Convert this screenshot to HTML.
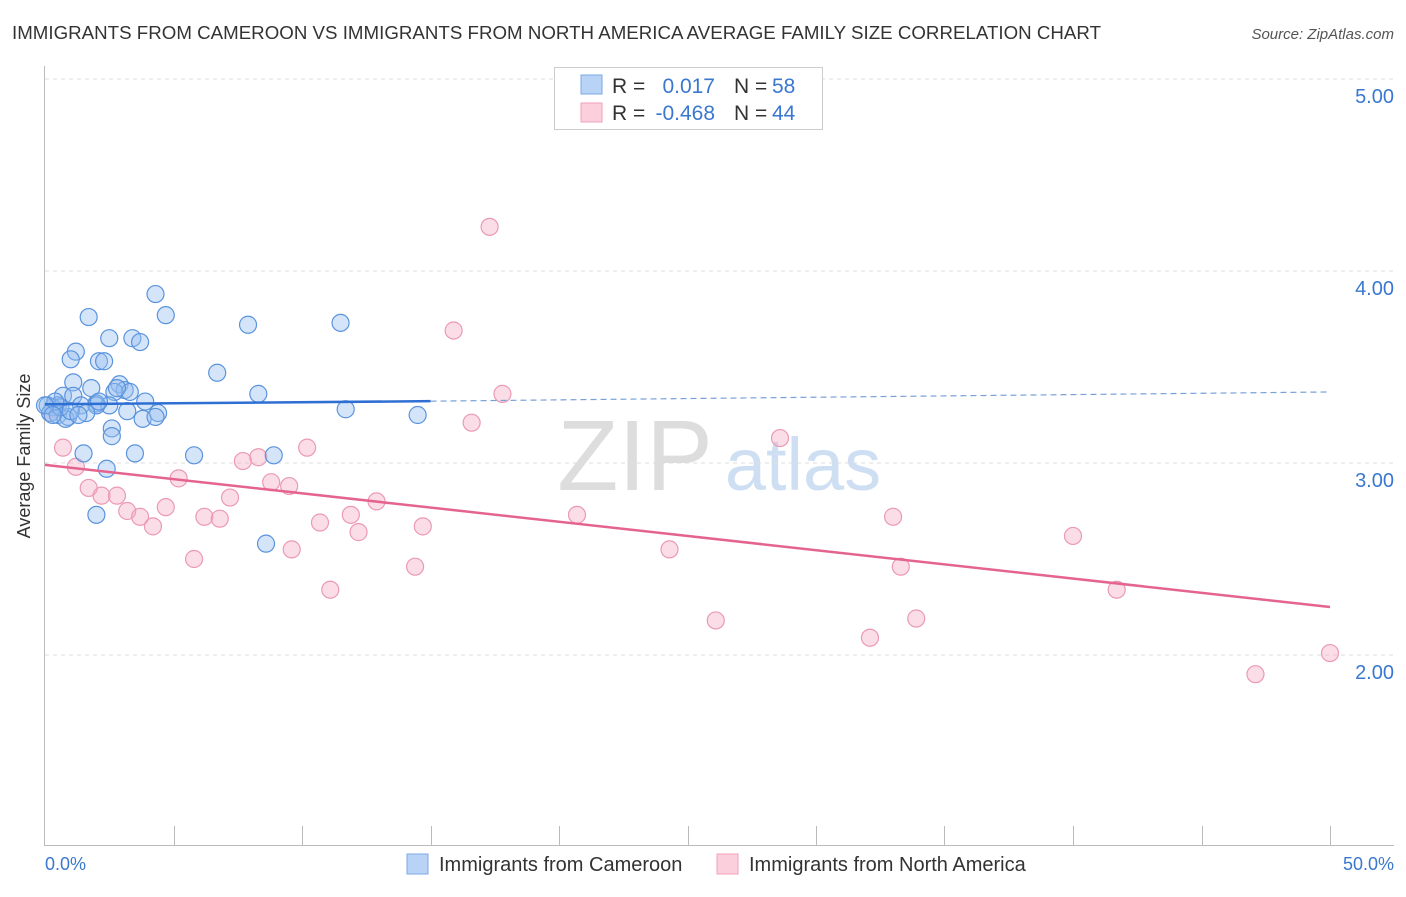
<!DOCTYPE html>
<html><head><meta charset="utf-8"><style>
body{margin:0;background:#fff;font-family:"Liberation Sans",sans-serif;}
svg text{font-family:"Liberation Sans",sans-serif;}
</style></head><body>
<svg id="c" width="1406" height="892">
<text x="12" y="39" font-size="18.7" fill="#333" textLength="1089">IMMIGRANTS FROM CAMEROON VS IMMIGRANTS FROM NORTH AMERICA AVERAGE FAMILY SIZE CORRELATION CHART</text>
<text x="1394" y="39" font-size="15" fill="#555" font-style="italic" text-anchor="end">Source: ZipAtlas.com</text>
<text x="635" y="490" font-size="100" fill="#ddd" font-family="Liberation Serif" text-anchor="middle">ZIP</text>
<text x="803" y="490" font-size="74" fill="#cfdff3" text-anchor="middle">atlas</text>
<g id="grid"></g><g id="axes"></g><g id="pts"></g><g id="lines"></g>
<text x="30" y="456" font-size="18" fill="#333" text-anchor="middle" transform="rotate(-90 30 456)">Average Family Size</text>
<text x="45" y="870" font-size="18" fill="#3a78d0">0.0%</text>
<text x="1394" y="870" font-size="18" fill="#3a78d0" text-anchor="end">50.0%</text>
<g>
<rect x="554.5" y="67.5" width="268" height="62" fill="#fff" stroke="#ccc"/>
<rect x="581" y="75" width="21" height="19" fill="#b8d3f5" stroke="#7aa8e6"/>
<rect x="581" y="103" width="21" height="19" fill="#fbd0dc" stroke="#f0a0b8"/>
<text x="612" y="93" font-size="21" fill="#333">R =</text><text x="715" y="93" font-size="21" fill="#3a78d0" text-anchor="end">0.017</text>
<text x="734" y="93" font-size="21" fill="#333">N =</text><text x="772" y="93" font-size="21" fill="#3a78d0">58</text>
<text x="612" y="120" font-size="21" fill="#333">R =</text><text x="715" y="120" font-size="21" fill="#3a78d0" text-anchor="end">-0.468</text>
<text x="734" y="120" font-size="21" fill="#333">N =</text><text x="772" y="120" font-size="21" fill="#3a78d0">44</text>
</g>
<g>
<rect x="407" y="854" width="21" height="20" fill="#b8d3f5" stroke="#7aa8e6"/>
<text x="439" y="871" font-size="20" fill="#333">Immigrants from Cameroon</text>
<rect x="717" y="854" width="21" height="20" fill="#fbd0dc" stroke="#f0a0b8"/>
<text x="749" y="871" font-size="20" fill="#333">Immigrants from North America</text>
</g>
</svg>
<script>
const yTicks=[2,3,4,5];
const yTickLabels=["2.00","3.00","4.00","5.00"];
const blueX=[4.3,1.7,4.7,7.9,11.5,2.5,3.4,3.7,1.2,1.0,2.1,2.3,6.7,1.1,2.9,1.8,3.1,3.3,2.7,8.3,0.7,1.1,3.9,2.0,2.5,0.5,1.4,2.0,11.7,3.2,4.4,0.3,0.1,0.2,0.5,1.6,0.9,3.8,4.3,0.8,14.5,2.6,2.6,1.5,3.5,5.8,8.9,2.4,2.0,8.6,0.6,0.4,1.0,2.1,0.0,0.3,2.8,1.3];
const blueY=[3.88,3.76,3.77,3.72,3.73,3.65,3.65,3.63,3.58,3.54,3.53,3.53,3.47,3.42,3.41,3.39,3.38,3.37,3.37,3.36,3.35,3.35,3.32,3.31,3.30,3.30,3.30,3.30,3.28,3.27,3.26,3.29,3.30,3.26,3.25,3.26,3.24,3.23,3.24,3.23,3.25,3.18,3.14,3.05,3.05,3.04,3.04,2.97,2.73,2.58,3.29,3.32,3.27,3.32,3.30,3.25,3.39,3.25];
const pinkX=[17.3,15.9,17.8,16.6,28.6,0.7,10.2,8.3,7.7,1.2,5.2,8.8,9.5,1.7,2.2,2.8,7.2,12.9,4.7,3.2,3.7,6.2,6.8,11.9,10.7,20.7,33.0,4.2,14.7,12.2,40.0,9.6,24.3,5.8,14.4,33.3,11.1,41.7,26.1,33.9,32.1,50.0,47.1,0.2];
const pinkY=[4.23,3.69,3.36,3.21,3.13,3.08,3.08,3.03,3.01,2.98,2.92,2.90,2.88,2.87,2.83,2.83,2.82,2.80,2.77,2.75,2.72,2.72,2.71,2.73,2.69,2.73,2.72,2.67,2.67,2.64,2.62,2.55,2.55,2.50,2.46,2.46,2.34,2.34,2.18,2.19,2.09,2.01,1.90,3.26];
const blueTrend=[[0,3.306],[15,3.322],[50,3.37]];
const pinkTrend=[[0,2.99],[50,2.25]];
const X=v=>45+v/50*1285, Y=v=>79+(5-v)*192;
const ns="http://www.w3.org/2000/svg";
function mk(t,a,p){const e=document.createElementNS(ns,t);for(const k in a)e.setAttribute(k,a[k]);p.appendChild(e);return e;}
const g=document.getElementById('grid'),ax=document.getElementById('axes');
yTicks.forEach((t,i)=>{const l=mk('line',{x1:45,x2:1394,y1:Y(t),y2:Y(t),stroke:'#ddd','stroke-dasharray':'4,4'},g);


const tx=mk('text',{x:1394,y:Y(t)+24,'font-size':20,fill:'#3a78d0','text-anchor':'end'},ax);tx.textContent=yTickLabels[i];

});
mk('line',{x1:44.5,x2:44.5,y1:66,y2:846,stroke:'#bbb'},ax);
mk('line',{x1:44,x2:1394,y1:845.5,y2:845.5,stroke:'#bbb'},ax);
for(let i=1;i<=10;i++){const xx=Math.round(X(i*5))+0.5;const t=mk('line',{x1:xx,x2:xx,y1:826,y2:846,stroke:'#bbb'},ax);

}
const P=document.getElementById('pts');
pinkX.forEach((x,i)=>{const c=mk('circle',{cx:X(x),cy:Y(pinkY[i]),r:8.5,fill:'rgba(246,170,194,0.4)',stroke:'#eb9ab3','stroke-width':1.2},P);

});
blueX.forEach((x,i)=>{const c=mk('circle',{cx:X(x),cy:Y(blueY[i]),r:8.5,fill:'rgba(150,190,240,0.4)',stroke:'#5a93dd','stroke-width':1.2},P);

});
const L=document.getElementById('lines');
let b=mk('line',{x1:X(blueTrend[0][0]),y1:Y(blueTrend[0][1]),x2:X(blueTrend[1][0]),y2:Y(blueTrend[1][1]),stroke:'#2f6fd3','stroke-width':2.5},L);


let bd=mk('line',{x1:X(blueTrend[1][0]),y1:Y(blueTrend[1][1]),x2:X(blueTrend[2][0]),y2:Y(blueTrend[2][1]),stroke:'#7aa0d8','stroke-width':1.2,'stroke-dasharray':'6,4'},L);


let pk=mk('line',{x1:X(pinkTrend[0][0]),y1:Y(pinkTrend[0][1]),x2:X(pinkTrend[1][0]),y2:Y(pinkTrend[1][1]),stroke:'#e4648f','stroke-width':2.5},L);


</script>
</body></html>
